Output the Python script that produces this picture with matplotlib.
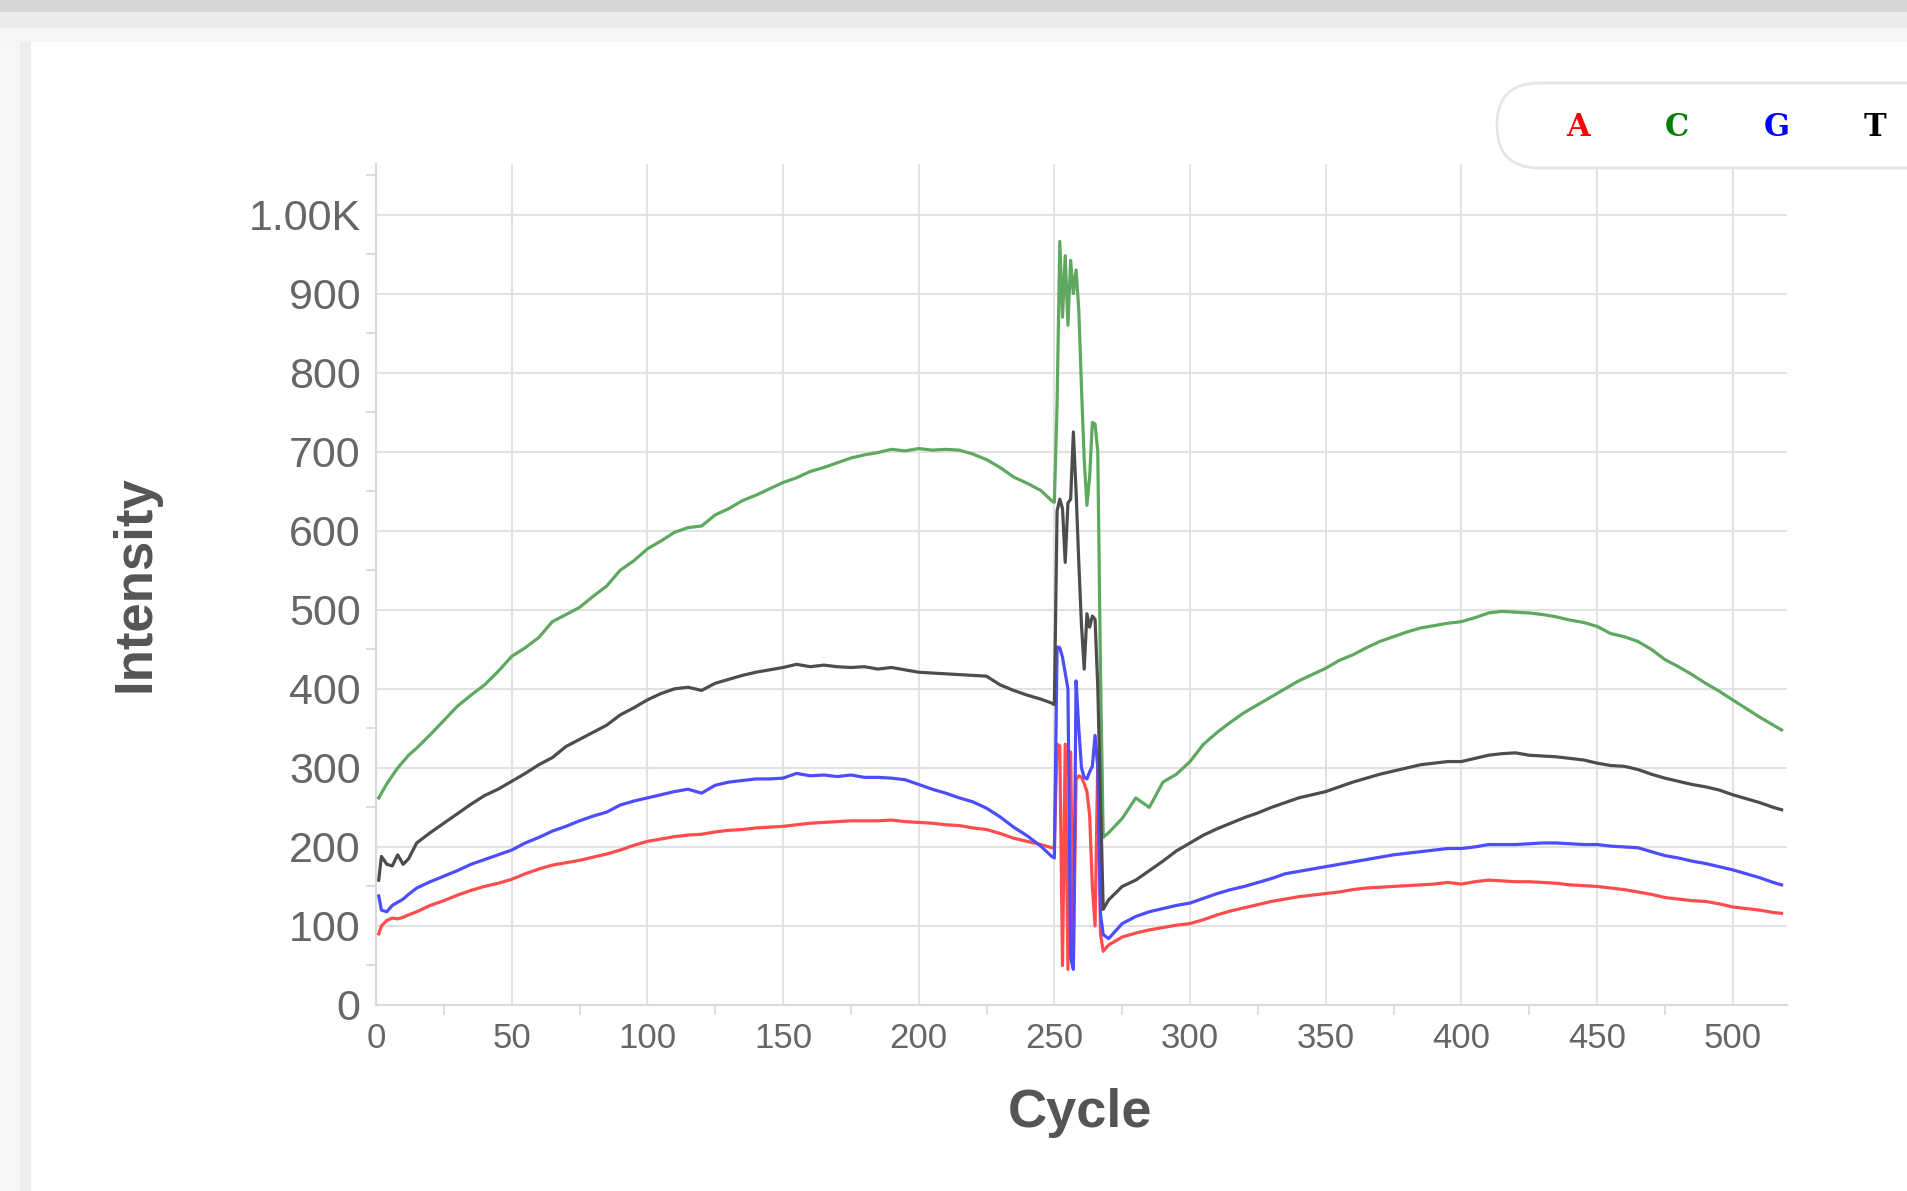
import matplotlib
matplotlib.use("Agg")
import matplotlib.pyplot as plt
from matplotlib.patches import Rectangle, FancyBboxPatch
from matplotlib.ticker import MultipleLocator

# ---------------- data ----------------
cycles = [1, 2, 4, 6, 8, 10, 12, 15, 20, 25, 30, 35, 40, 45, 50, 55, 60, 65, 70, 75,
          80, 85, 90, 95, 100, 105, 110, 115, 120, 125, 130, 135, 140, 145, 150, 155,
          160, 165, 170, 175, 180, 185, 190, 195, 200, 205, 210, 215, 220, 225, 230,
          235, 240, 245, 249,
          250, 251, 252, 253, 254, 255, 256, 257, 258, 259, 260, 261, 262, 263, 264,
          265, 266, 267, 268,
          270, 275, 280, 285, 290, 295, 300, 305, 310, 315, 320, 325, 330, 335, 340,
          345, 350, 355, 360, 365, 370, 375, 380, 385, 390, 395, 400, 405, 410, 415,
          420, 425, 430, 435, 440, 445, 450, 455, 460, 465, 470, 475, 480, 485, 490,
          495, 500, 505, 510, 515, 518]

A_vals = [90, 100, 107, 110, 109, 111, 114, 118, 126, 132, 139, 145, 150, 154, 159, 166,
          172, 177, 180, 183, 187, 191, 196, 202, 207, 210, 213, 215, 216, 219, 221, 222,
          224, 225, 226, 228, 230, 231, 232, 233, 233, 233, 234, 232, 231, 230, 228, 227,
          224, 222, 217, 211, 207, 203, 199,
          199, 330, 328, 50, 330, 45, 320, 50, 285, 290, 288, 280, 270, 240, 150,
          100, 310, 90, 68,
          76, 86, 91, 95, 98, 101, 103, 108, 114, 119, 123, 127, 131, 134, 137,
          139, 141, 143, 146, 148, 149, 150, 151, 152, 153, 155, 153, 156, 158, 157,
          156, 156, 155, 154, 152, 151, 150, 148, 146, 143, 140, 136, 134, 132, 131,
          128, 124, 122, 120, 117, 116]

C_vals = [262, 268, 280, 290, 300, 308, 316, 325, 342, 360, 378, 392, 405, 422, 441, 452,
          465, 485, 494, 503, 517, 530, 550, 562, 577, 587, 598, 604, 606, 620, 628, 638,
          645, 653, 661, 667, 675, 680, 686, 692, 696, 699, 703, 701, 704, 702, 703, 702,
          697, 690, 680, 668, 660, 651, 638,
          636, 760, 966, 870, 948, 860, 942, 900, 930, 880, 780, 690, 632, 668, 737,
          735, 700, 420, 212,
          218, 236, 262, 250, 282, 292, 308, 330, 345, 358, 370, 380, 390, 400, 410,
          418, 426, 436, 443, 452, 460, 466, 472, 477, 480, 483, 485, 490, 496, 498,
          497, 496, 494, 491, 487, 484, 479, 470, 466, 460, 450, 437, 428, 418, 407,
          397, 386, 375, 364, 354, 348]

G_vals = [138, 120, 118, 126, 130, 134, 140, 148, 156, 163, 170, 178, 184, 190, 196, 205,
          212, 220, 226, 233, 239, 244, 253, 258, 262, 266, 270, 273, 268, 278, 282, 284,
          286, 286, 287, 293, 290, 291, 289, 291, 288, 288, 287, 285, 279, 273, 268, 262,
          257, 249, 238, 225, 214, 201, 188,
          186, 453, 452, 440, 420, 400, 60, 45, 410, 350, 300, 288, 286, 295, 302,
          341, 300, 115, 89,
          84, 103, 112, 118, 122, 126, 129, 135, 141, 146, 150, 155, 160, 166, 169,
          172, 175, 178, 181, 184, 187, 190, 192, 194, 196, 198, 198, 200, 203, 203,
          203, 204, 205, 205, 204, 203, 203, 201, 200, 199, 194, 189, 186, 182, 179,
          175, 171, 166, 161, 155, 152]

T_vals = [158, 188, 178, 176, 190, 178, 185, 205, 218, 230, 242, 254, 265, 273, 283, 293,
          304, 313, 327, 336, 345, 354, 367, 376, 386, 394, 400, 402, 398, 407, 412, 417,
          421, 424, 427, 431, 428, 430, 428, 427, 428, 425, 427, 424, 421, 420, 419, 418,
          417, 416, 405, 398, 392, 387, 382,
          380, 625, 640, 628, 560, 635, 640, 725, 650, 560, 480, 425, 495, 478, 492,
          488, 402, 260, 121,
          133, 150, 158, 170, 182, 195, 205, 215, 223, 230, 237, 243, 250, 256, 262,
          266, 270, 276, 282, 287, 292, 296, 300, 304, 306, 308, 308, 312, 316, 318,
          319, 316, 315, 314, 312, 310, 306, 303, 302, 298, 292, 287, 283, 279, 276,
          272, 266, 261, 256, 250, 247]

bases = ["A", "C", "G", "T"]
line_colors = ["#ff4d4d", "#5fa85f", "#4d4dff", "#4d4d4d"]
legend_colors = ["#ff0000", "#008000", "#0000ff", "#000000"]
y_ticks = [0, 100, 200, 300, 400, 500, 600, 700, 800, 900, 1000]
y_tick_labels = ["0", "100", "200", "300", "400", "500", "600", "700", "800", "900", "1.00K"]
x_ticks = [0, 50, 100, 150, 200, 250, 300, 350, 400, 450, 500]

# ---------------- figure ----------------
W, H = 1907, 1191
fig = plt.figure(figsize=(W / 100, H / 100), dpi=100, facecolor="white")


def px_rect(x0, y0, x1, y1, color, z=0):
    """rectangle in pixel coords (top-left origin)"""
    fig.add_artist(Rectangle((x0 / W, 1 - y1 / H), (x1 - x0) / W, (y1 - y0) / H,
                             transform=fig.transFigure, facecolor=color,
                             edgecolor="none", zorder=z))


# page background / card shadow
px_rect(0, 0, W, 12, "#d6d6d6")
px_rect(0, 12, W, 28, "#ececec")
px_rect(0, 28, W, 42, "#f5f5f5")
px_rect(0, 42, 20, H, "#f7f7f7")
px_rect(20, 42, 31, H, "#ededed")

ax = fig.add_axes([376 / W, 1 - 1005 / H, (1787 - 376) / W, (1005 - 164) / H])
ax.set_facecolor("white")

series = [A_vals, C_vals, G_vals, T_vals]
for vals, col in zip(series, line_colors):
    ax.plot(cycles, vals, color=col, lw=2.3, solid_joinstyle="round", zorder=3)

ax.set_xlim(0, 520)
ax.set_ylim(0, 1064)
ax.set_xticks(x_ticks)
ax.set_yticks(y_ticks)
ax.set_yticklabels(y_tick_labels)
ax.xaxis.set_minor_locator(MultipleLocator(25))
ax.yaxis.set_minor_locator(MultipleLocator(50))

ax.grid(True, which="major", color="#e2e2e2", lw=1.5, zorder=0)
for s in ["top", "right"]:
    ax.spines[s].set_visible(False)
for s in ["left", "bottom"]:
    ax.spines[s].set_color("#dadada")
    ax.spines[s].set_linewidth(1.5)

ax.tick_params(axis="both", which="major", length=0, colors="#666666")
ax.tick_params(axis="x", which="major", labelsize=25, pad=12)
ax.tick_params(axis="y", which="major", labelsize=31, pad=11)
ax.tick_params(axis="both", which="minor", length=7, width=1.3, color="#dadada")
for lab in ax.get_xticklabels() + ax.get_yticklabels():
    lab.set_fontfamily("Liberation Sans")

fig.text(136 / W, 1 - 584 / H, "Intensity", rotation=90, ha="center", va="center",
         fontsize=38, fontweight="bold", color="#555555", family="Liberation Sans")
fig.text(1080 / W, 1 - 1113 / H, "Cycle", ha="center", va="center",
         fontsize=39, fontweight="bold", color="#555555", family="Liberation Sans")

# legend box (rounded, cut by right edge)
leg = FancyBboxPatch((1497 / W, 1 - 168 / H), (1950 - 1497) / W, (168 - 83) / H,
                     boxstyle="round,pad=0,rounding_size=0.022",
                     transform=fig.transFigure, facecolor="white",
                     edgecolor="#e6e6e6", lw=2, zorder=5, mutation_aspect=W / H)
fig.add_artist(leg)
leg_x = [1578, 1677, 1777, 1875]
for b, c, lx in zip(bases, legend_colors, leg_x):
    fig.text(lx / W, 1 - 127 / H, b, ha="center", va="center", fontsize=22,
             fontweight="heavy", color=c, family=["DejaVu Serif", "DejaVu Sans"],
             zorder=6)

fig.savefig("out.png", dpi=100, facecolor="white")
